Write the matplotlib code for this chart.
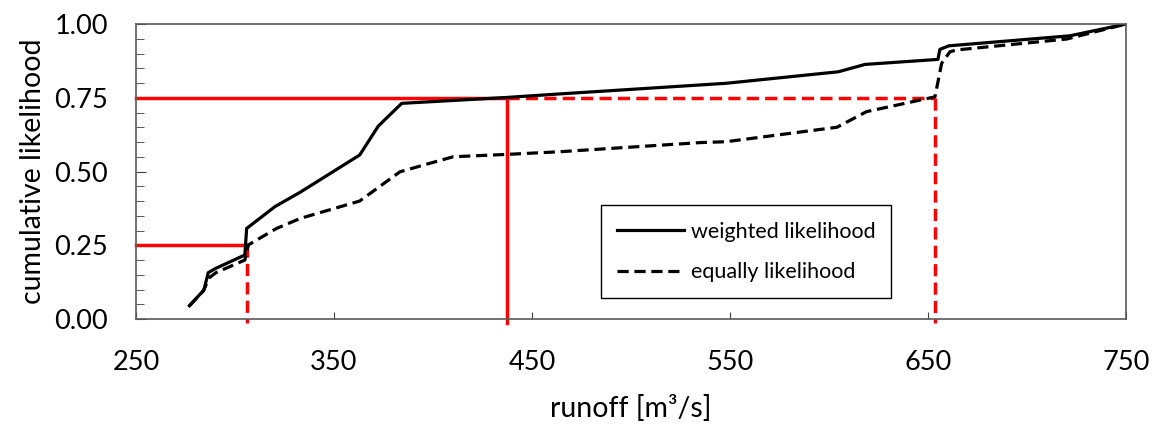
import numpy as np
import matplotlib.pyplot as plt
from matplotlib.ticker import MultipleLocator

plt.rcParams['font.family'] = ['Lato', 'DejaVu Sans']

# weighted likelihood (solid)
w_runoff = [277, 284.3, 286.5, 290.4, 305, 305.9, 320.2, 333, 363, 372.4, 384.2,
            437.2, 464, 548, 604.7, 618.2, 655, 656, 660.5, 721.7, 750]
w_cum = [0.045, 0.098, 0.157, 0.172, 0.217, 0.307, 0.381, 0.43, 0.556, 0.654, 0.731,
         0.751, 0.763, 0.799, 0.838, 0.863, 0.880, 0.914, 0.926, 0.960, 1.0]

# equally likelihood (dashed)
e_runoff = [277, 284, 287, 290.4, 305, 306.7, 321, 333, 363, 383.3, 398.5, 410.2,
            437.2, 464, 535, 548, 604, 619, 653.5, 656.9, 661.1, 664.4, 720, 750]
e_cum = [0.045, 0.095, 0.14, 0.157, 0.200, 0.251, 0.307, 0.341, 0.400, 0.499, 0.528, 0.550,
         0.558, 0.567, 0.598, 0.601, 0.650, 0.703, 0.753, 0.867, 0.906, 0.912, 0.949, 1.0]

# quantile markers
q_low, q_high = 0.25, 0.75
w_q25, w_q75 = 306, 437.2
e_q25, e_q75 = 306, 653.5

fig = plt.figure(figsize=(11.58, 4.24), dpi=100)
ax = fig.add_axes([0.1174, 0.2476, 0.855, 0.6958])

red = '#ff0000'
dash = (3.5, 1.8)

# red guide lines
ax.plot([250, w_q25], [q_low, q_low], color=red, lw=2.5, clip_on=False)
ax.plot([e_q25, e_q25], [q_low, -0.012], color=red, lw=2.5, dashes=dash, clip_on=False)
ax.plot([250, w_q75], [q_high, q_high], color=red, lw=2.5, clip_on=False)
ax.plot([w_q75, w_q75], [q_high, -0.012], color=red, lw=2.5, clip_on=False)
ax.plot([w_q75, e_q75], [q_high, q_high], color=red, lw=2.5, dashes=dash, clip_on=False)
ax.plot([e_q75, e_q75], [q_high, -0.012], color=red, lw=2.5, dashes=dash, clip_on=False)

ax.plot(w_runoff, w_cum, color='black', lw=2.3, label='weighted likelihood')
ax.plot(e_runoff, e_cum, color='black', lw=2.3, dashes=dash, label='equally likelihood')

ax.set_xlim(250, 750)
ax.set_ylim(0, 1)
ax.set_xticks(np.arange(250, 751, 100))
ax.yaxis.set_major_locator(MultipleLocator(0.25))
ax.yaxis.set_minor_locator(MultipleLocator(0.05))
ax.yaxis.set_major_formatter(plt.FormatStrFormatter('%.2f'))
ax.tick_params(axis='both', which='both', direction='in', labelsize=19.5, colors='#404040',
               labelcolor='black')
ax.tick_params(axis='x', pad=22, length=5)
ax.tick_params(axis='y', which='major', pad=20, length=7)
ax.tick_params(axis='y', which='minor', length=6)

for s in ax.spines.values():
    s.set_color('#595959')
    s.set_linewidth(1.2)

ax.set_xlabel('runoff [m³/s]', fontsize=20.5, labelpad=15)
ax.set_ylabel('cumulative likelihood', fontsize=20.5, labelpad=6)

leg = ax.legend(loc='lower left', bbox_to_anchor=(0.459, 0.034), fontsize=15.5,
                handlelength=3.1, handletextpad=0.3, labelspacing=0.95,
                borderpad=0.75, fancybox=False, framealpha=1, edgecolor='black')
leg.get_frame().set_linewidth(1.0)

fig.savefig('out.png', dpi=100)
